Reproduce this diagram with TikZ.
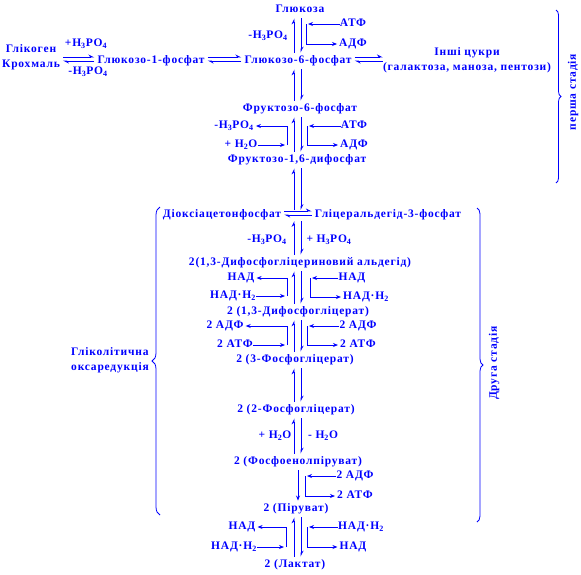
\documentclass[tikz,border=0pt]{standalone}
\usepackage{fontspec}
\setmainfont{Liberation Serif}[LetterSpace=7]
\usetikzlibrary{arrows.meta,decorations.pathreplacing}
\definecolor{bl}{RGB}{0,0,255}
\newcommand\eqpair[2]{%
  \draw[hp] (#2 -| cL) -- (#1 -| cL);
  \draw[hp] (#1 -| cR) -- (#2 -| cR);}
\newcommand\cof[3]{%
  \draw[ar] (#1) -- (#1 -| #3);
  \draw[ar] (#1 -| #3) |- (#2);}
\begin{document}
\begin{tikzpicture}[x=1pt,y=-1pt,
  t/.style={font=\fontsize{11.5}{14}\selectfont\bfseries, text=bl, inner sep=0pt, text height=8pt, text depth=2.5pt},
  tt/.style={font=\fontsize{11.5}{14.5}\selectfont\bfseries, text=bl, inner sep=0pt},
  ln/.style={draw=bl, line width=0.9pt},
  ar/.style={ln, -{Stealth[length=5pt,width=4pt]}, shorten >=2pt},
  hp/.style={ln, -{Stealth[length=5pt,width=5pt,harpoon]}, shorten >=3pt, shorten <=3pt},
  br/.style={ln, line width=0.8pt, decorate}]
\useasboundingbox (0,0) rectangle (581,574);
\coordinate (cL) at (294,0);
\coordinate (cR) at (301,0);
\coordinate (cM) at (298,0);
% nodes
\node[t] (glc) at (300,10) {Глюкоза};
\node[tt,align=center] (gk) at (31,57) {Глікоген\\Крохмаль};
\node[t] (hp1) at (86,44) {+H\textsubscript{3}PO\textsubscript{4}};
\node[t] (hm1) at (88,72) {-H\textsubscript{3}PO\textsubscript{4}};
\node[t] (g1p) at (151,61) {Глюкозо-1-фосфат};
\node[t] (g6p) at (298,61) {Глюкозо-6-фосфат};
\node[t] (hm0) at (268,36) {-H\textsubscript{3}PO\textsubscript{4}};
\node[t] (atp1) at (353,24) {АТФ};
\node[t] (adp1) at (353,44) {АДФ};
\node[tt,align=center] (oth) at (467,60) {Інші цукри\\(галактоза, маноза, пентози)};
\node[t] (f6p) at (300,109) {Фруктозо-6-фосфат};
\node[t] (hm2) at (234,126) {-H\textsubscript{3}PO\textsubscript{4}};
\node[t] (pw2) at (241,145) {+ H\textsubscript{2}O};
\node[t] (atp2) at (354,126) {АТФ};
\node[t] (adp2) at (354,145) {АДФ};
\node[t] (f16) at (297,160) {Фруктозо-1,6-дифосфат};
\node[t] (dap) at (222,215) {Діоксіацетонфосфат};
\node[t] (gap) at (388,215) {Гліцеральдегід-3-фосфат};
\coordinate (tri) at (298,210);
\node[t] (hm3) at (267,240) {-H\textsubscript{3}PO\textsubscript{4}};
\node[t] (hp3) at (329,240) {+ H\textsubscript{3}PO\textsubscript{4}};
\node[t] (dpga) at (300,263) {2(1,3-Дифосфогліцериновий альдегід)};
\node[t] (nad1L) at (241,278) {НАД};
\node[t] (nadh1L) at (233,296) {НАД·H\textsubscript{2}};
\node[t] (nad1R) at (352,278) {НАД};
\node[t] (nadh1R) at (366,297) {НАД·H\textsubscript{2}};
\node[t] (dpg) at (298,312) {2 (1,3-Дифосфогліцерат)};
\node[t] (adp3L) at (225,326) {2 АДФ};
\node[t] (atp3L) at (235,345) {2 АТФ};
\node[t] (adp3R) at (358,326) {2 АДФ};
\node[t] (atp3R) at (358,345) {2 АТФ};
\node[t] (pg3) at (295,360) {2 (3-Фосфогліцерат)};
\node[t] (pg2) at (296,410) {2 (2-Фосфогліцерат)};
\node[t] (pw4) at (275,436) {+ H\textsubscript{2}O};
\node[t] (mw4) at (323,436) {- H\textsubscript{2}O};
\node[t] (pep) at (298,462) {2 (Фосфоенолпіруват)};
\node[t] (adp5) at (355,476) {2 АДФ};
\node[t] (atp5) at (355,496) {2 АТФ};
\node[t] (pyr) at (296,509) {2 (Піруват)};
\node[t] (nad6L) at (242,527) {НАД};
\node[t] (nadh6L) at (234,547) {НАД·H\textsubscript{2}};
\node[t] (nadh6R) at (361,527) {НАД·H\textsubscript{2}};
\node[t] (nad6R) at (353,547) {НАД};
\node[t] (lac) at (295,565) {2 (Лактат)};
\node[tt,align=left] (glk) at (110,360) {Гліколітична\\оксаредукція};
\node[t,rotate=90] (st1) at (573,92) {перша стадія};
\node[t,rotate=90] (st2) at (494,363) {Друга стадія};
% bracket x positions
\coordinate (b1) at (306,0);
\coordinate (b2L) at (287,0);
\coordinate (b2R) at (307,0);
\coordinate (b3L) at (287,0);
\coordinate (b3R) at (310,0);
\coordinate (b4L) at (287,0);
\coordinate (b4R) at (307,0);
\coordinate (b5) at (305,0);
\coordinate (b6L) at (286,0);
\coordinate (b6R) at (307,0);
% horizontal equilibria
\draw[hp] ([yshift=4pt]g1p.west -| gk.east) -- ([yshift=4pt]g1p.west);
\draw[hp] (g1p.west) -- (g1p.west -| gk.east);
\draw[hp] ([yshift=4pt]g1p.east) -- ([yshift=4pt]g6p.west);
\draw[hp] (g6p.west) -- (g1p.east);
\draw[hp,shorten >=0pt] ([yshift=4pt]g6p.east) -- ([yshift=4pt]g6p.east -| oth.west);
\draw[hp,shorten <=0pt] (g6p.east -| oth.west) -- (g6p.east);
\draw[hp] ([yshift=4pt]dap.east) -- ([yshift=4pt]gap.west);
\draw[hp] (gap.west) -- (dap.east);
% vertical equilibria
\eqpair{glc.south}{g6p.north}
\eqpair{g6p.south}{f6p.north}
\eqpair{f6p.south}{f16.north}
\draw[hp,shorten <=0pt] (tri -| cL) -- (f16.south -| cL);
\draw[hp,shorten >=0pt] (f16.south -| cR) -- (tri -| cR);
\draw[hp] (dpga.north -| cL) -- ([yshift=-8pt]tri -| cL);
\draw[hp] ([yshift=-8pt]tri -| cR) -- (dpga.north -| cR);
\eqpair{dpga.south}{dpg.north}
\eqpair{dpg.south}{pg3.north}
\eqpair{pg3.south}{pg2.north}
\eqpair{pg2.south}{pep.north}
\draw[ar,shorten <=3pt,shorten >=3pt] (pep.south -| cM) -- (pyr.north -| cM);
\eqpair{pyr.south}{lac.north}
% cofactors
\cof{atp1.west}{adp1.west}{b1}
\cof{pw2.east}{hm2.east}{b2L}
\cof{atp2.west}{adp2.west}{b2R}
\cof{nadh1L.east}{nad1L.east}{b3L}
\cof{nad1R.west}{nadh1R.west}{b3R}
\cof{atp3L.east}{adp3L.east}{b4L}
\cof{adp3R.west}{atp3R.west}{b4R}
\cof{adp5.west}{atp5.west}{b5}
\cof{nadh6L.east}{nad6L.east}{b6L}
\cof{nadh6R.west}{nad6R.west}{b6R}
% braces
\draw[br,decoration={brace,amplitude=5pt}] (556,10) -- (556,183);
\draw[br,decoration={brace,amplitude=8pt}] (160,515) -- (160,207);
\draw[br,decoration={brace,amplitude=6pt}] (477,208) -- (477,522);
\end{tikzpicture}
\end{document}
